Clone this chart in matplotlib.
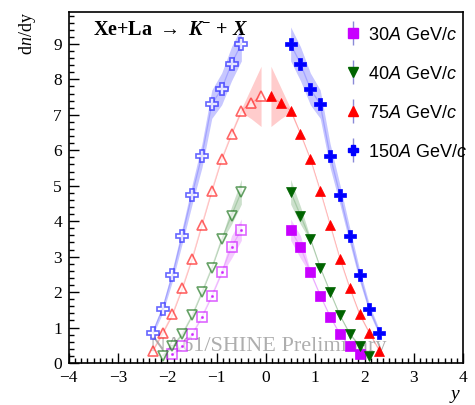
import matplotlib
matplotlib.use("Agg")
import matplotlib.pyplot as plt
from matplotlib.lines import Line2D
from matplotlib.ticker import MultipleLocator

# === FIGURE CONFIGURATION ===
DPI = 100
FIGSIZE = (4.75, 4.05)
TICK_FONTSIZE = 12.5
LEGEND_FONTSIZE = 13
# === END CONFIGURATION ===

plt.rcParams["font.family"] = ["Liberation Serif", "DejaVu Serif"]
plt.rcParams["mathtext.fontset"] = "custom"
plt.rcParams["mathtext.rm"] = "Liberation Sans"
plt.rcParams["mathtext.it"] = "Liberation Sans:italic"
plt.rcParams["mathtext.bf"] = "Liberation Serif:bold"
plt.rcParams["mathtext.bfit"] = "Liberation Serif:italic:bold"
plt.rcParams["mathtext.cal"] = "Liberation Serif:italic"

# measured (forward) rapidity half, dn/dy and systematic band half-width
y_30 = [0.5, 0.7, 0.9, 1.1, 1.3, 1.5, 1.7, 1.9]
dn_30 = [3.76, 3.27, 2.56, 1.90, 1.31, 0.81, 0.48, 0.25]
sys_30 = [0.30, 0.32, 0.05, 0.03, 0.03, 0.03, 0.03, 0.03]

y_40 = [0.5, 0.7, 0.9, 1.1, 1.3, 1.5, 1.7, 1.9, 2.1]
dn_40 = [4.83, 4.16, 3.49, 2.69, 2.00, 1.34, 0.82, 0.48, 0.21]
sys_40 = [0.35, 0.25, 0.05, 0.03, 0.03, 0.03, 0.03, 0.03, 0.03]

y_75 = [0.1, 0.3, 0.5, 0.7, 0.9, 1.1, 1.3, 1.5, 1.7, 1.9, 2.1, 2.3]
dn_75 = [7.52, 7.33, 7.12, 6.46, 5.75, 4.86, 3.90, 2.94, 2.11, 1.37, 0.84, 0.35]
sys_75 = [0.85, 0.44, 0.05, 0.03, 0.03, 0.03, 0.03, 0.03, 0.03, 0.03, 0.03, 0.03]

y_150 = [0.5, 0.7, 0.9, 1.1, 1.3, 1.5, 1.7, 1.9, 2.1, 2.3]
dn_150 = [9.00, 8.44, 7.73, 7.30, 5.85, 4.75, 3.59, 2.47, 1.52, 0.86]
sys_150 = [0.48, 0.48, 0.45, 0.40, 0.34, 0.28, 0.22, 0.17, 0.12, 0.08]

labels = [r"30$\mathit{A}$ GeV/$\mathit{c}$", r"40$\mathit{A}$ GeV/$\mathit{c}$",
          r"75$\mathit{A}$ GeV/$\mathit{c}$", r"150$\mathit{A}$ GeV/$\mathit{c}$"]
colors = ["#c800ff", "#006400", "#ff0000", "#0000ff"]
markers = ["s", "v", "^", "P"]
sizes = [7, 7.5, 7.5, 8]
band_alpha = [0.2, 0.2, 0.2, 0.22]

series = [(y_30, dn_30, sys_30), (y_40, dn_40, sys_40),
          (y_75, dn_75, sys_75), (y_150, dn_150, sys_150)]


def draw_half(ax, y, dn, sys, color, marker, ms, alpha, mirrored):
    """One rapidity half: band, guide line and markers (open when reflected)."""
    x = [-v for v in y] if mirrored else list(y)
    lo = [d - s for d, s in zip(dn, sys)]
    hi = [d + s for d, s in zip(dn, sys)]
    ax.fill_between(x, lo, hi, color=color, alpha=alpha, lw=0, zorder=2)
    ax.plot(x, dn, color=color, lw=0.9, alpha=0.18, zorder=3)
    if mirrored:
        ax.plot(x, dn, ls="none", marker=marker, ms=ms, mfc="white", mec=color,
                mew=1.2, alpha=0.6, zorder=5)
        if marker == "s":
            ax.plot(x, dn, ls="none", marker="o", ms=1.2, color=color, alpha=0.6, zorder=6)
    else:
        ax.plot(x, dn, ls="none", marker=marker, ms=ms, color=color, mec=color,
                mew=0.5, zorder=5)


fig = plt.figure(figsize=FIGSIZE, dpi=DPI)
ax = fig.add_axes([0.145, 0.1037, 0.83, 0.8667])

for (y, dn, sys), color, marker, ms, alpha in zip(series, colors, markers, sizes, band_alpha):
    draw_half(ax, y, dn, sys, color, marker, ms, alpha, mirrored=True)
    draw_half(ax, y, dn, sys, color, marker, ms, alpha, mirrored=False)

ax.set_xlim(-4, 4)
ax.set_ylim(0, 9.9)
ax.xaxis.set_major_locator(MultipleLocator(1))
ax.xaxis.set_minor_locator(MultipleLocator(0.125))
ax.yaxis.set_major_locator(MultipleLocator(1))
ax.yaxis.set_minor_locator(MultipleLocator(0.2))
ax.tick_params(which="both", direction="in", top=False, right=False,
               labelsize=TICK_FONTSIZE, width=1.0, pad=5)
ax.tick_params(which="major", length=7.5)
ax.tick_params(which="minor", length=3.5)
ax.set_yticks(range(0, 10))
for spine in ax.spines.values():
    spine.set_linewidth(1.2)

ax.set_ylabel(r"d$\mathcal{n}$/dy", fontsize=13, loc="top")
ax.yaxis.set_label_coords(-0.078, 1.0)
ax.set_xlabel("y", fontsize=14, fontstyle="italic", loc="right")
ax.xaxis.set_label_coords(0.99, -0.065)

ax.text(-3.52, 9.24, r"Xe+La $\rightarrow$ $\mathbfit{K}^{-}$ + $\mathbfit{X}$",
        fontsize=14.5, fontweight="bold", ha="left", va="baseline", zorder=7)
ax.text(0.04, 0.33, "NA61/SHINE Preliminary", fontsize=16, color="#9a9a9a",
        alpha=0.8, ha="center", va="baseline", zorder=4)

# legend: marker with a thin vertical error stroke through it
handles = []
for color, marker in zip(colors, markers):
    bar = Line2D([], [], ls="none", marker="|", ms=17, mew=1.0, color="#8a8ad8")
    pt = Line2D([], [], ls="none", marker=marker, ms=7, color=color, mec=color)
    handles.append((bar, pt))
ax.legend(handles, labels, loc="upper left", bbox_to_anchor=(0.698, 0.958),
          frameon=False, prop={"family": "Liberation Sans", "size": LEGEND_FONTSIZE},
          labelspacing=1.22, handlelength=1.0, handletextpad=0.3,
          borderpad=0, borderaxespad=0)

fig.savefig("out.png", dpi=DPI, facecolor="white")
plt.close(fig)
